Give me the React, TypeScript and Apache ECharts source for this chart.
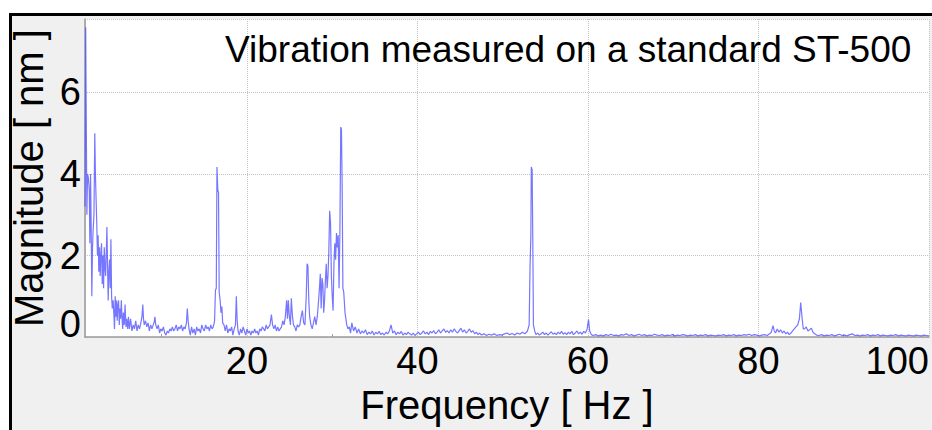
import React, { useEffect, useRef } from "react";
import * as echarts from "echarts";

// [frequency Hz, magnitude nm]
const lowBand: [number, number][] = [
  [1.0, 3.2], [1.08, 7.6], [1.15, 7.6], [1.22, 3.0], [1.3, 4.0], [1.4, 3.9], [1.5, 3.6], [1.57, 2.3],
  [1.65, 4.0], [1.72, 2.8], [1.8, 1.0], [1.88, 2.2], [1.95, 2.6], [2.05, 3.0], [2.15, 5.0], [2.22, 4.0],
  [2.3, 3.4], [2.38, 2.8], [2.46, 2.0], [2.54, 2.5], [2.62, 1.6], [2.7, 2.2], [2.78, 1.5], [2.86, 2.0],
  [2.94, 2.3], [3.02, 1.3], [3.1, 2.0], [3.18, 1.2], [3.26, 2.2], [3.34, 1.7], [3.42, 1.5], [3.5, 2.1],
  [3.57, 2.7], [3.64, 1.8], [3.72, 0.9], [3.8, 1.6], [3.88, 1.9], [3.96, 1.2], [4.04, 2.4], [4.12, 1.0],
  [4.2, 0.7], [4.3, 0.9], [4.38, 0.6], [4.46, 0.2], [4.54, 1.0], [4.62, 0.5], [4.7, 0.9], [4.78, 0.4],
  [4.86, 0.8], [4.94, 0.9], [5.02, 0.3], [5.1, 0.7], [5.18, 0.45], [5.26, 0.9], [5.34, 0.5], [5.42, 0.2],
  [5.5, 0.6], [5.6, 0.3], [5.7, 0.8], [5.8, 0.25], [5.9, 0.45], [6.0, 0.2], [6.1, 0.5], [6.2, 0.2],
  [6.35, 0.45], [6.5, 0.15], [6.65, 0.3], [6.8, 0.2], [6.95, 0.4], [7.1, 0.15], [7.25, 0.3], [7.4, 0.2],
  [7.55, 0.35], [7.68, 0.5], [7.78, 0.8], [7.86, 0.45], [7.95, 0.3], [8.1, 0.4], [8.25, 0.25], [8.4, 0.35],
  [8.55, 0.15], [8.7, 0.3], [8.85, 0.2], [9.0, 0.3], [9.1, 0.35], [9.2, 0.5], [9.3, 0.3], [9.45, 0.2],
  [9.6, 0.3], [9.75, 0.1], [9.9, 0.2], [10.05, 0.15], [10.2, 0.25], [10.35, 0.1], [10.5, 0.05], [10.65, 0.15],
  [10.8, 0.1], [10.95, 0.2], [11.1, 0.15], [11.25, 0.25], [11.4, 0.15], [11.55, 0.2], [11.7, 0.3], [11.85, 0.15],
  [12.0, 0.25], [12.15, 0.2], [12.3, 0.3], [12.45, 0.15], [12.6, 0.25], [12.75, 0.2], [12.9, 0.35], [13.0, 0.7],
  [13.1, 0.4], [13.2, 0.2], [13.35, 0.05], [13.5, 0.25], [13.65, 0.1], [13.8, 0.2], [13.95, 0.05], [14.1, 0.25],
  [14.25, 0.15], [14.4, 0.2], [14.55, 0.1], [14.7, 0.3], [14.85, 0.2], [15.0, 0.15], [15.15, 0.3], [15.3, 0.2],
  [15.45, 0.25], [15.6, 0.15], [15.75, 0.3], [15.9, 0.2], [16.05, 0.25], [16.2, 0.4],
];

const midBand: [number, number][] = [
  [16.3, 1.15], [16.4, 1.2], [16.48, 4.17], [16.58, 3.6], [16.66, 3.55], [16.74, 1.1], [16.85, 0.9], [16.95, 0.6],
  [17.05, 0.75], [17.15, 0.35], [17.3, 0.3], [17.45, 0.15], [17.6, 0.3], [17.75, 0.1], [17.9, 0.2], [18.05, 0.15],
  [18.2, 0.25], [18.35, 0.05], [18.5, 0.2], [18.65, 0.3], [18.75, 1.0], [18.85, 0.4], [18.95, 0.15], [19.1, 0.05],
  [19.25, 0.2], [19.4, 0.1], [19.55, 0.25], [19.7, 0.15], [19.85, 0.05], [20.0, 0.2], [20.15, 0.1], [20.3, 0.15],
  [20.45, 0.05], [20.6, 0.15], [20.75, 0.1], [20.9, 0.2], [21.05, 0.1], [21.2, 0.15], [21.35, 0.05], [21.5, 0.2],
  [21.65, 0.15], [21.8, 0.25], [21.95, 0.2], [22.1, 0.15], [22.25, 0.3], [22.4, 0.2], [22.55, 0.25], [22.7, 0.3],
  [22.87, 0.55], [23.0, 0.3], [23.15, 0.2], [23.3, 0.3], [23.45, 0.15], [23.6, 0.25], [23.75, 0.15], [23.9, 0.2],
  [24.05, 0.25], [24.2, 0.4], [24.35, 0.3], [24.5, 0.5], [24.65, 0.9], [24.75, 0.45], [24.85, 0.9], [24.95, 0.55],
  [25.1, 0.3], [25.2, 0.95], [25.32, 0.55], [25.45, 0.3], [25.6, 0.25], [25.75, 0.15], [25.9, 0.3], [26.05, 0.25],
  [26.2, 0.3], [26.35, 0.5], [26.5, 0.65], [26.65, 0.35], [26.8, 0.3], [26.95, 1.0], [27.05, 1.8], [27.15, 1.75],
  [27.25, 0.9], [27.35, 0.5], [27.5, 0.3], [27.65, 0.2], [27.8, 0.35], [27.95, 0.5], [28.1, 0.3], [28.25, 0.5],
  [28.4, 0.9], [28.5, 1.2], [28.6, 1.55], [28.7, 0.7], [28.8, 1.45], [28.9, 1.3], [29.0, 0.6], [29.1, 0.9],
  [29.2, 1.4], [29.3, 1.8], [29.4, 1.2], [29.5, 1.5], [29.6, 2.1], [29.7, 3.1], [29.8, 2.8], [29.9, 1.5],
  [30.0, 1.0], [30.1, 0.65], [30.2, 1.8], [30.3, 2.3], [30.4, 1.9], [30.5, 2.55], [30.6, 2.2], [30.7, 2.5],
  [30.8, 1.2], [30.9, 2.6], [31.0, 5.15], [31.08, 5.1], [31.16, 3.8], [31.25, 1.2], [31.35, 1.1], [31.5, 0.6],
  [31.7, 0.3], [31.85, 0.2], [32.0, 0.25], [32.15, 0.1],
];

const highBand: [number, number][] = [
  [32.3, 0.35], [32.5, 0.15], [32.7, 0.25], [32.9, 0.1], [33.1, 0.2], [33.3, 0.08], [33.5, 0.15], [33.7, 0.1],
  [33.9, 0.18], [34.1, 0.06], [34.3, 0.12], [34.5, 0.08], [34.7, 0.15], [34.9, 0.05], [35.1, 0.12], [35.3, 0.08],
  [35.5, 0.14], [35.7, 0.06], [35.9, 0.1], [36.1, 0.05], [36.3, 0.12], [36.5, 0.08], [36.7, 0.15], [36.9, 0.3],
  [37.1, 0.1], [37.3, 0.15], [37.5, 0.06], [37.7, 0.12], [37.9, 0.08], [38.1, 0.14], [38.3, 0.05], [38.5, 0.1],
  [38.7, 0.06], [38.9, 0.12], [39.1, 0.08], [39.3, 0.05], [39.5, 0.1], [39.7, 0.04], [39.9, 0.08], [40.1, 0.12],
  [40.3, 0.06], [40.5, 0.1], [40.7, 0.15], [40.9, 0.08], [41.1, 0.12], [41.3, 0.06], [41.5, 0.14], [41.7, 0.1],
  [41.9, 0.16], [42.1, 0.08], [42.3, 0.12], [42.5, 0.18], [42.7, 0.1], [42.9, 0.15], [43.1, 0.2], [43.3, 0.12],
  [43.5, 0.16], [43.7, 0.1], [43.9, 0.18], [44.1, 0.12], [44.3, 0.2], [44.5, 0.14], [44.7, 0.1], [44.9, 0.16],
  [45.1, 0.22], [45.3, 0.12], [45.5, 0.18], [45.7, 0.1], [45.9, 0.14], [46.1, 0.2], [46.3, 0.12], [46.5, 0.16],
  [46.7, 0.08], [46.9, 0.12], [47.1, 0.06], [47.3, 0.1], [47.5, 0.05], [47.8, 0.08], [48.1, 0.04], [48.4, 0.07],
  [48.7, 0.05], [49.0, 0.08], [49.3, 0.04], [49.6, 0.06], [49.9, 0.05], [50.2, 0.08], [50.5, 0.1], [50.8, 0.06],
  [51.1, 0.09], [51.4, 0.05], [51.7, 0.1], [52.0, 0.07], [52.3, 0.12], [52.6, 0.08], [52.9, 0.15], [53.1, 0.3],
  [53.2, 1.7], [53.3, 2.5], [53.35, 4.17], [53.45, 4.1], [53.52, 2.5], [53.6, 0.3], [53.75, 0.15], [53.9, 0.06],
  [54.1, 0.1], [54.3, 0.05], [54.5, 0.08], [54.7, 0.12], [54.9, 0.06], [55.1, 0.1], [55.3, 0.05], [55.5, 0.09],
  [55.7, 0.13], [55.9, 0.07], [56.1, 0.1], [56.3, 0.06], [56.5, 0.12], [56.7, 0.08], [56.9, 0.14], [57.1, 0.07],
  [57.3, 0.11], [57.5, 0.06], [57.7, 0.12], [57.9, 0.08], [58.1, 0.14], [58.3, 0.06], [58.5, 0.1], [58.7, 0.15],
  [58.9, 0.08], [59.1, 0.12], [59.3, 0.07], [59.5, 0.14], [59.7, 0.1], [59.9, 0.2], [60.06, 0.43], [60.2, 0.15],
  [60.4, 0.06], [60.6, 0.04], [60.9, 0.06],
];

const tailBand: [number, number][] = [
  [61.2, 0.03], [61.5, 0.05], [61.8, 0.03], [62.1, 0.06], [62.4, 0.04], [62.7, 0.07], [63.0, 0.04], [63.3, 0.05],
  [63.6, 0.03], [63.9, 0.06], [64.2, 0.05], [64.5, 0.08], [64.8, 0.04], [65.1, 0.06], [65.4, 0.03], [65.7, 0.05],
  [66.0, 0.07], [66.3, 0.04], [66.6, 0.06], [66.9, 0.03], [67.2, 0.05], [67.5, 0.04], [67.8, 0.07], [68.1, 0.05],
  [68.4, 0.04], [68.7, 0.06], [69.0, 0.03], [69.3, 0.05], [69.6, 0.04], [69.9, 0.06], [70.2, 0.03], [70.5, 0.05],
  [70.8, 0.04], [71.1, 0.06], [71.4, 0.05], [71.7, 0.03], [72.0, 0.05], [72.3, 0.04], [72.6, 0.06], [72.9, 0.03],
  [73.2, 0.05], [73.5, 0.04], [73.8, 0.06], [74.1, 0.03], [74.4, 0.05], [74.7, 0.04], [75.0, 0.03], [75.3, 0.05],
  [75.6, 0.04], [75.9, 0.06], [76.2, 0.03], [76.5, 0.05], [76.8, 0.04], [77.1, 0.06], [77.4, 0.03], [77.7, 0.05],
  [78.0, 0.04], [78.3, 0.06], [78.6, 0.05], [78.9, 0.07], [79.2, 0.04], [79.5, 0.06], [79.8, 0.05], [80.1, 0.03],
  [80.4, 0.05], [80.7, 0.06], [81.0, 0.04], [81.3, 0.08], [81.5, 0.12], [81.7, 0.28], [81.85, 0.15], [82.0, 0.1],
  [82.2, 0.2], [82.4, 0.12], [82.6, 0.18], [82.8, 0.1], [83.0, 0.15], [83.2, 0.08], [83.4, 0.12], [83.6, 0.06],
  [83.8, 0.1], [84.0, 0.15], [84.2, 0.2], [84.4, 0.25], [84.6, 0.3], [84.8, 0.45], [84.95, 0.85], [85.1, 0.5],
  [85.25, 0.2], [85.4, 0.2], [85.6, 0.25], [85.8, 0.15], [86.0, 0.18], [86.2, 0.22], [86.4, 0.12], [86.6, 0.08],
  [86.8, 0.05], [87.1, 0.04], [87.4, 0.06], [87.7, 0.03], [88.0, 0.05], [88.3, 0.04], [88.6, 0.06], [88.9, 0.03],
  [89.2, 0.05], [89.5, 0.07], [89.8, 0.04], [90.1, 0.05], [90.4, 0.03], [90.7, 0.06], [91.0, 0.08], [91.3, 0.04],
  [91.6, 0.05], [91.9, 0.03], [92.2, 0.05], [92.5, 0.04], [92.8, 0.06], [93.1, 0.03], [93.4, 0.05], [93.7, 0.04],
  [94.0, 0.06], [94.3, 0.03], [94.6, 0.05], [94.9, 0.04], [95.2, 0.03], [95.5, 0.05], [95.8, 0.04], [96.1, 0.06],
  [96.4, 0.03], [96.7, 0.05], [97.0, 0.04], [97.3, 0.03], [97.6, 0.05], [97.9, 0.04], [98.2, 0.03], [98.5, 0.05],
  [98.8, 0.04], [99.1, 0.03], [99.4, 0.05], [99.7, 0.04], [100, 0.03],
];

const titleText = "Vibration measured on a standard ST-500";
const xAxisName = "Frequency [ Hz ]";
const yAxisName = "Magnitude [ nm ]";
const xRange = [1, 100];
const yRange = [0, 7.8];

const FONT = "'Liberation Sans', Arial, sans-serif";

export default function App() {
  const ref = useRef<HTMLDivElement>(null);

  useEffect(() => {
    document.body.style.margin = "0";
    const chart = echarts.init(ref.current!, null, { renderer: "svg" });
    const data = [...lowBand, ...midBand, ...highBand, ...tailBand];
    chart.setOption({
      animation: false,
      textStyle: { fontFamily: FONT, color: "#000" },
      title: {
        text: titleText,
        left: 220,
        top: 26,
        textStyle: { fontFamily: FONT, fontSize: 37, fontWeight: "normal", color: "#000" },
      },
      grid: {
        left: 85,
        top: 19,
        right: 0,
        bottom: 82,
        show: true,
        backgroundColor: "#ffffff",
        borderWidth: 0,
        containLabel: false,
      },
      xAxis: {
        type: "value",
        min: xRange[0],
        max: xRange[1],
        name: xAxisName,
        nameLocation: "middle",
        nameGap: 40,
        nameTextStyle: { fontFamily: FONT, fontSize: 40, color: "#000" },
        axisLine: { show: true, lineStyle: { color: "#9a9a9a", width: 1.5 } },
        axisTick: { show: false },
        minorTick: { show: true, splitNumber: 2, length: -3, lineStyle: { color: "#9a9a9a" } },
        axisLabel: {
          fontFamily: FONT,
          fontSize: 38,
          color: "#000",
          margin: 5,
          showMinLabel: false,
          alignMaxLabel: "right",
        },
        splitLine: { show: true, lineStyle: { color: "#c4c4c4", type: "dotted", width: 1 } },
      },
      yAxis: {
        type: "value",
        min: yRange[0],
        max: yRange[1],
        interval: 2,
        name: yAxisName,
        nameLocation: "middle",
        nameGap: 27,
        nameTextStyle: { fontFamily: FONT, fontSize: 40, color: "#000" },
        axisLine: { show: true, lineStyle: { color: "#9a9a9a", width: 1.5 } },
        axisTick: { show: false },
        axisLabel: {
          fontFamily: FONT,
          fontSize: 38,
          color: "#000",
          margin: 4,
          showMaxLabel: false,
          formatter: (v: number) => (v === 0 ? "{z|0}" : String(v)),
          rich: { z: { fontFamily: FONT, fontSize: 38, color: "#000", padding: [0, 0, 26, 0] } },
        },
        splitLine: { show: true, lineStyle: { color: "#c4c4c4", type: "dotted", width: 1 } },
      },
      series: [
        {
          type: "line",
          data,
          showSymbol: false,
          symbol: "none",
          clip: true,
          lineStyle: { color: "#4f4fff", width: 1.2, opacity: 0.78 },
          z: 3,
        },
      ],
    });
    return () => chart.dispose();
  }, []);

  return (
    <div style={{ position: "relative", width: 932, height: 430, background: "#ffffff", overflow: "hidden" }}>
      <div
        style={{
          position: "absolute",
          left: 9,
          top: 13,
          width: 940,
          height: 440,
          background: "#f0f0f0",
          borderTop: "3px solid #000",
          borderLeft: "3px solid #000",
          boxSizing: "border-box",
        }}
      />
      <div ref={ref} style={{ position: "absolute", left: 0, top: 0, width: 932, height: 430 }} />
    </div>
  );
}
